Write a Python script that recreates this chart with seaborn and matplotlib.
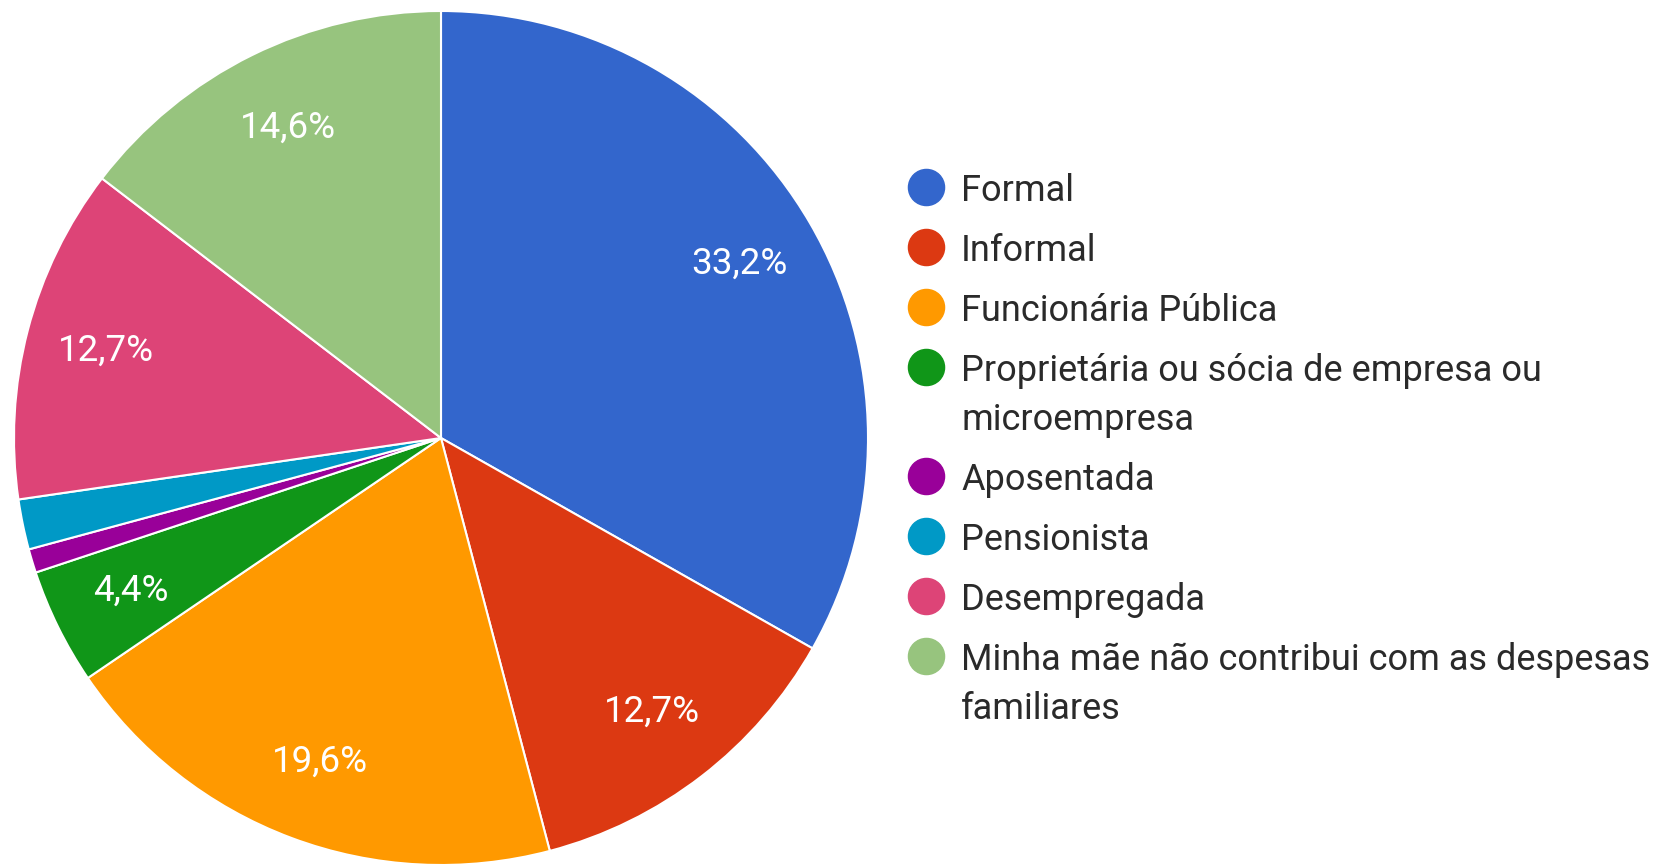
import matplotlib
matplotlib.use("Agg")
import matplotlib.pyplot as plt
from matplotlib.lines import Line2D
import seaborn as sns

categories = [
    "Formal",
    "Informal",
    "Funcionária Pública",
    "Proprietária ou sócia de empresa ou\nmicroempresa",
    "Aposentada",
    "Pensionista",
    "Desempregada",
    "Minha mãe não contribui com as despesas\nfamiliares",
]
values = [33.2, 12.7, 19.6, 4.4, 0.9, 1.9, 12.7, 14.6]
colors = ["#3366cc", "#dc3912", "#ff9900", "#109618",
          "#990099", "#0099c6", "#dd4477", "#97c47e"]

sns.set_theme(style="white")
plt.rcParams["font.family"] = ["Roboto", "DejaVu Sans"]

W, H = 1666, 864
fig = plt.figure(figsize=(W / 100, H / 100), dpi=100)
fig.patch.set_facecolor("white")

cx, cy, r = 441, 438, 427
ax = fig.add_axes([(cx - r) / W, (H - cy - r) / H, 2 * r / W, 2 * r / H])
ax.set_xlim(-1, 1)
ax.set_ylim(-1, 1)
ax.set_aspect("equal")
ax.axis("off")


def fmt(p):
    if p < 3:
        return ""
    return f"{p:.1f}%".replace(".", ",")


wedges, texts, autotexts = ax.pie(
    values, colors=colors, startangle=90, counterclock=False, radius=1,
    autopct=fmt, pctdistance=0.81,
    wedgeprops=dict(edgecolor="white", linewidth=1.5),
    textprops=dict(color="white", fontsize=26.5, fontweight="normal"),
)
ax.set_xlim(-1, 1)
ax.set_ylim(-1, 1)

# legend, drawn row by row
x_marker = 926 / W
x_text = 961 / W
y = 187
row_gap = 60
line_gap = 49
for lab, col in zip(categories, colors):
    nlines = lab.count("\n") + 1
    fig.add_artist(Line2D([x_marker], [1 - y / H], marker="o", markersize=26,
                          markerfacecolor=col, markeredgecolor=col,
                          linestyle="none", transform=fig.transFigure))
    for i, line in enumerate(lab.split("\n")):
        fig.text(x_text, 1 - (y + i * line_gap) / H, line, fontsize=26,
                 fontweight="normal", color="#2a2a2a",
                 va="center_baseline", ha="left")
    y += row_gap + (nlines - 1) * line_gap

fig.savefig("out.png", dpi=100, facecolor="white")
